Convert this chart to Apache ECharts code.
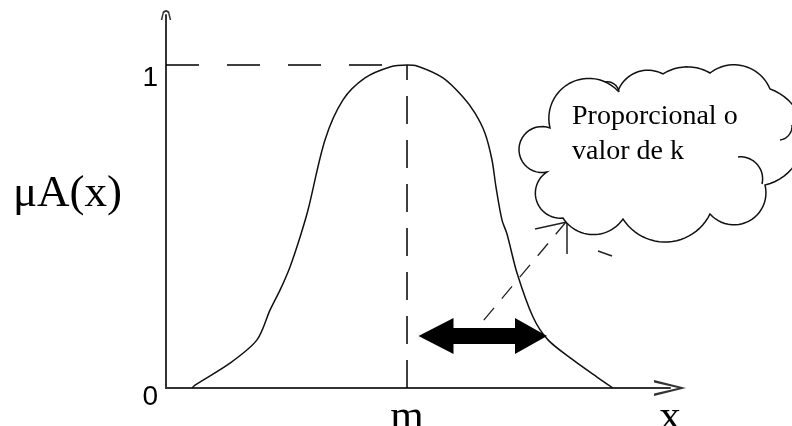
<!DOCTYPE html>
<html>
<head>
<meta charset="utf-8">
<style>
  html, body { margin: 0; padding: 0; background: #fff; }
  #chart { width: 792px; height: 426px; }
</style>
<script src="https://cdn.jsdelivr.net/npm/echarts@6/dist/echarts.min.js"></script>
</head>
<body>
<div id="chart"></div>
<script>
// ---- data ----
const curveX = [26, 29, 64, 91, 104, 114, 124, 134, 142, 159, 177, 199, 224, 241, 251, 277, 297, 309, 319, 326, 330, 336, 341, 351, 367, 382, 407, 431, 447];
const curveY = [0, 0.009, 0.077, 0.149, 0.241, 0.303, 0.375, 0.467, 0.551, 0.768, 0.892, 0.960, 0.994, 1.0, 0.997, 0.960, 0.901, 0.851, 0.789, 0.706, 0.622, 0.520, 0.477, 0.356, 0.220, 0.149, 0.087, 0.034, 0];
const yTickValues = [0, 1];
const yTickLabels = ['0', '1'];
const xTickValues = [241, 504];
const xTickLabels = ['m', 'x'];
const peakX = 241;
const peakY = 1;
const arrowX = [270, 365];
const arrowY = 0.161;
const yName = 'μA(x)';
const cloudLines = ['Proporcional o', 'valor de k'];

const chart = echarts.init(document.getElementById('chart'), null, { renderer: 'canvas' });

const serif = '"Liberation Serif", "DejaVu Serif", serif';
const sans = '"Liberation Sans", Arial, sans-serif';

// cloud outline built from circular arcs (decoration only)
function arcPts(x1, y1, x2, y2, r, large, sweep) {
  const dx = x2 - x1, dy = y2 - y1, d = Math.hypot(dx, dy);
  r = Math.max(r, d / 2);
  const h = Math.sqrt(Math.max(0, r * r - d * d / 4));
  const nx = -dy / d, ny = dx / d;
  const mx = (x1 + x2) / 2, my = (y1 + y2) / 2;
  const s = (large !== sweep) ? 1 : -1;
  const cx = mx + s * h * nx, cy = my + s * h * ny;
  let a1 = Math.atan2(y1 - cy, x1 - cx), a2 = Math.atan2(y2 - cy, x2 - cx);
  if (sweep) { while (a2 < a1) a2 += Math.PI * 2; } else { while (a2 > a1) a2 -= Math.PI * 2; }
  const pts = [];
  const n = 24;
  for (let i = 0; i <= n; i++) {
    const a = a1 + (a2 - a1) * i / n;
    pts.push([cx + r * Math.cos(a), cy + r * Math.sin(a)]);
  }
  return pts;
}
const cloudSpec = [
  [550, 128, 618, 91, 40, 0], [618, 91, 663, 74, 32, 0], [663, 74, 710, 73, 45, 0],
  [710, 73, 770, 89, 39, 0], [770, 89, 765, 185, 50, 0], [765, 185, 710, 214, 32, 0],
  [710, 214, 623, 219, 50, 0], [623, 219, 563, 218, 36, 0], [563, 218, 547, 172, 25, 0],
  [547, 172, 550, 128, 23, 1]
];
let cloudPts = [];
cloudSpec.forEach(s => { cloudPts = cloudPts.concat(arcPts(s[0], s[1], s[2], s[3], s[4], s[5], 1)); });
const hook1 = arcPts(738, 157, 762, 184, 22, 0, 1);
const hook2 = arcPts(780, 140, 792, 125, 14, 0, 0);
const hook3 = arcPts(605, 82, 619, 92, 12, 0, 1);

const option = {
  animation: false,
  backgroundColor: '#ffffff',
  grid: { left: 166, right: 122, top: 15, bottom: 38, containLabel: false, outerBoundsMode: 'none' },
  xAxis: {
    type: 'value', min: 0, max: 504,
    axisLine: {
      show: true, onZero: true,
      lineStyle: { color: '#333', width: 2 },
      symbol: ['none', 'path://M0,20 L5,0 L10,20 L8.4,20 L5,5 L1.6,20 Z'],
      symbolSize: [16, 32]
    },
    axisTick: { show: false },
    splitLine: { show: false },
    axisLabel: {
      customValues: xTickValues,
      formatter: function (v) { return xTickLabels[xTickValues.indexOf(v)]; },
      fontFamily: serif, fontSize: 43, color: '#000', margin: 8
    }
  },
  yAxis: {
    type: 'value', min: 0, max: 1.155,
    name: '{n|' + yName + '}', nameLocation: 'middle', nameRotate: 0, nameGap: 44,
    nameTextStyle: {
      rich: { n: { fontFamily: serif, fontSize: 45, color: '#000', padding: [0, 0, 15, 0] } }
    },
    axisLine: {
      show: true, lineStyle: { color: '#333', width: 2 },
      symbol: ['none', 'path://M0,10 L2,2 Q5,-1 8,2 L10,10 L8.5,10 L7,3.5 Q5,1.5 3,3.5 L1.5,10 Z'],
      symbolSize: [12, 10]
    },
    axisTick: { show: false },
    splitLine: { show: false },
    axisLabel: {
      customValues: yTickValues,
      formatter: function (v) {
        const s = yTickLabels[yTickValues.indexOf(v)];
        return v === 1 ? '{a|' + s + '}' : '{b|' + s + '}';
      },
      margin: 8,
      rich: {
        a: { fontFamily: sans, fontSize: 28, color: '#000', padding: [26, 0, 0, 0] },
        b: { fontFamily: sans, fontSize: 28, color: '#000', padding: [19, 0, 0, 0] }
      }
    }
  },
  series: [{
    type: 'line',
    data: curveX.map((x, i) => [x, curveY[i]]),
    smooth: 0.3,
    symbol: 'none',
    lineStyle: { color: '#111', width: 1.5 },
    silent: true,
    markLine: {
      silent: true,
      animation: false,
      label: { show: false },
      emphasis: { disabled: true },
      data: [
        [{ coord: [0, peakY], symbol: 'none', lineStyle: { type: [33, 28], color: '#000', width: 1.5 } },
         { coord: [peakX, peakY], symbol: 'none' }],
        [{ coord: [peakX, 0], symbol: 'none', lineStyle: { type: [28, 16], color: '#000', width: 1.5 } },
         { coord: [peakX, peakY], symbol: 'none' }],
        [{ coord: [arrowX[0], arrowY], symbol: 'triangle', symbolSize: [36, 35], lineStyle: { type: 'solid', color: '#000', width: 16 }, itemStyle: { color: '#000' } },
         { coord: [arrowX[1], arrowY], symbol: 'triangle', symbolSize: [36, 32], itemStyle: { color: '#000' } }]
      ]
    }
  }],
  graphic: [
    // callout tail
    { type: 'line', silent: true, shape: { x1: 566, y1: 222, x2: 478, y2: 327 }, style: { stroke: '#222', lineWidth: 1.3, lineDash: [16, 12] } },
    { type: 'line', silent: true, shape: { x1: 567, y1: 222, x2: 567, y2: 254 }, style: { stroke: '#222', lineWidth: 1.5 } },
    { type: 'line', silent: true, shape: { x1: 535, y1: 229, x2: 567, y2: 222 }, style: { stroke: '#222', lineWidth: 1.5 } },
    { type: 'line', silent: true, shape: { x1: 567, y1: 222, x2: 597, y2: 233 }, style: { stroke: '#111', lineWidth: 2.5 } },
    { type: 'line', silent: true, shape: { x1: 598, y1: 251, x2: 612, y2: 256 }, style: { stroke: '#222', lineWidth: 1.5 } },
    // cloud
    {
      type: 'polygon', silent: true, z: 10,
      shape: { points: cloudPts },
      style: { fill: '#fff', stroke: '#111', lineWidth: 1.5 }
    },
    { type: 'polyline', silent: true, z: 11, shape: { points: hook1 }, style: { stroke: '#111', lineWidth: 1.5, fill: null } },
    { type: 'polyline', silent: true, z: 11, shape: { points: hook2 }, style: { stroke: '#111', lineWidth: 1.5, fill: null } },
    { type: 'polyline', silent: true, z: 11, shape: { points: hook3 }, style: { stroke: '#111', lineWidth: 1.5, fill: null } },
    {
      type: 'text', silent: true, z: 11, x: 572, y: 99,
      style: {
        text: cloudLines.join('\n'),
        font: '28px ' + serif, fill: '#000', lineHeight: 35
      }
    }
  ]
};

chart.setOption(option);
</script>
</body>
</html>
